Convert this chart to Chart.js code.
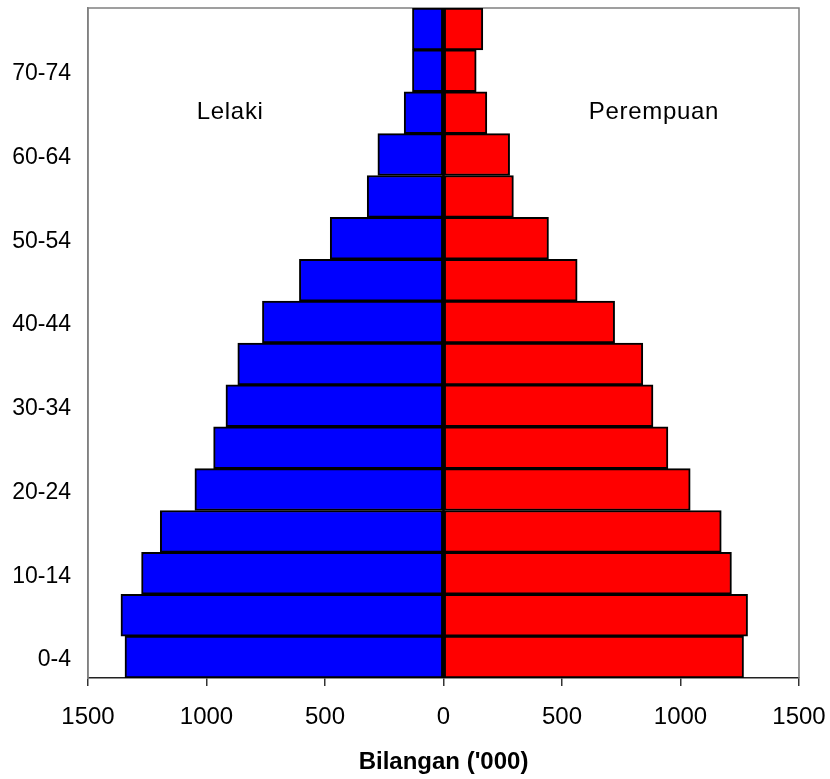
<!DOCTYPE html>
<html>
<head>
<meta charset="utf-8">
<title>Piramid Penduduk</title>
<script src="https://cdn.jsdelivr.net/npm/chart.js@4/dist/chart.umd.min.js"></script>
<style>
  html, body { margin: 0; padding: 0; background: #fff; }
  #wrap { width: 830px; height: 779px; }
</style>
</head>
<body>
<div id="wrap"><canvas id="pyramid" width="830" height="779"></canvas></div>
<script>
// age groups, youngest first (drawn bottom to top)
const ageGroups = ['0-4', '5-9', '10-14', '15-19', '20-24', '25-29', '30-34', '35-39',
  '40-44', '45-49', '50-54', '55-59', '60-64', '65-69', '70-74', '75+'];

// population in thousands
const maleValues = [1344, 1361, 1274, 1195, 1049, 970, 918, 868, 764, 608, 478, 322, 277, 166, 131, 131];
const femaleValues = [1266, 1283, 1215, 1172, 1041, 947, 884, 841, 722, 564, 443, 295, 279, 183, 138, 166];

const xTicks = [-1500, -1000, -500, 0, 500, 1000, 1500];

// side labels inside the plot
const sideLabels = [
  { text: 'Lelaki', x: -900, y: '65-69' },
  { text: 'Perempuan', x: 888, y: '65-69' }
];

const fontFamily = 'Liberation Sans, Arial, sans-serif';

const framePlugin = {
  id: 'frame',
  beforeDatasetsDraw(chart) {
    const a = chart.chartArea;
    const ctx = chart.ctx;
    ctx.save();
    ctx.strokeStyle = '#808080';
    ctx.lineWidth = 1.5;
    ctx.beginPath();
    ctx.moveTo(a.left, a.bottom);
    ctx.lineTo(a.left, a.top);
    ctx.lineTo(a.right, a.top);
    ctx.lineTo(a.right, a.bottom);
    ctx.stroke();
    ctx.restore();
  }
};

// black line where the two halves meet, plus the side labels
const overlayPlugin = {
  id: 'overlay',
  afterDatasetsDraw(chart) {
    const ctx = chart.ctx;
    const xs = chart.scales.x;
    const ys = chart.scales.y;
    const a = chart.chartArea;
    ctx.save();
    const x0 = xs.getPixelForValue(0);
    ctx.strokeStyle = '#000';
    ctx.lineWidth = 2.5;
    ctx.beginPath();
    ctx.moveTo(x0, a.top);
    ctx.lineTo(x0, a.bottom);
    ctx.stroke();

    ctx.fillStyle = '#000';
    ctx.font = '24px ' + fontFamily;
    ctx.letterSpacing = '0.7px';
    ctx.textAlign = 'center';
    ctx.textBaseline = 'middle';
    sideLabels.forEach(l => {
      const idx = ageGroups.indexOf(l.y);
      ctx.fillText(l.text, xs.getPixelForValue(l.x), ys.getPixelForValue(idx));
    });
    ctx.restore();
  }
};

const ctx = document.getElementById('pyramid').getContext('2d');
new Chart(ctx, {
  type: 'bar',
  data: {
    labels: ageGroups,
    datasets: [
      {
        label: 'Lelaki',
        data: maleValues.map(v => -v),
        backgroundColor: '#0000ff',
        borderColor: '#000',
        borderWidth: 2,
        borderSkipped: false,
        barPercentage: 1,
        categoryPercentage: 1
      },
      {
        label: 'Perempuan',
        data: femaleValues,
        backgroundColor: '#ff0000',
        borderColor: '#000',
        borderWidth: 2,
        borderSkipped: false,
        barPercentage: 1,
        categoryPercentage: 1
      }
    ]
  },
  options: {
    indexAxis: 'y',
    responsive: false,
    animation: false,
    layout: { padding: { top: 8, right: 31, left: 0, bottom: 0 } },
    plugins: {
      legend: { display: false },
      tooltip: { enabled: false }
    },
    scales: {
      x: {
        stacked: true,
        min: -1500,
        max: 1500,
        afterBuildTicks(scale) {
          scale.ticks = xTicks.map(v => ({ value: v }));
        },
        ticks: {
          color: '#000',
          font: { family: fontFamily, size: 24 },
          padding: 17,
          maxRotation: 0,
          callback: v => Math.abs(v)
        },
        grid: { drawOnChartArea: false, tickLength: 8, color: '#333', lineWidth: 1.5 },
        border: { color: '#222', width: 1.5 },
        title: {
          display: true,
          text: "Bilangan ('000)",
          color: '#000',
          font: { family: fontFamily, size: 24, weight: 'bold' },
          padding: { top: 14, bottom: 2 }
        },
        afterFit(scale) {
          scale.height = 101;
          scale.paddingLeft = 0;
          scale.paddingRight = 0;
        }
      },
      y: {
        stacked: true,
        reverse: true,
        ticks: {
          color: '#000',
          font: { family: fontFamily, size: 23 },
          padding: 17,
          labelOffset: 3,
          autoSkip: false,
          callback: function (v, i) {
            return i % 2 === 0 ? this.getLabelForValue(v) : '';
          }
        },
        grid: { display: false, drawTicks: false },
        border: { display: true, color: '#808080', width: 1.5 },
        afterFit(scale) {
          scale.width = 88;
          scale.paddingTop = 0;
          scale.paddingBottom = 0;
        }
      }
    }
  },
  plugins: [framePlugin, overlayPlugin]
});
</script>
</body>
</html>
